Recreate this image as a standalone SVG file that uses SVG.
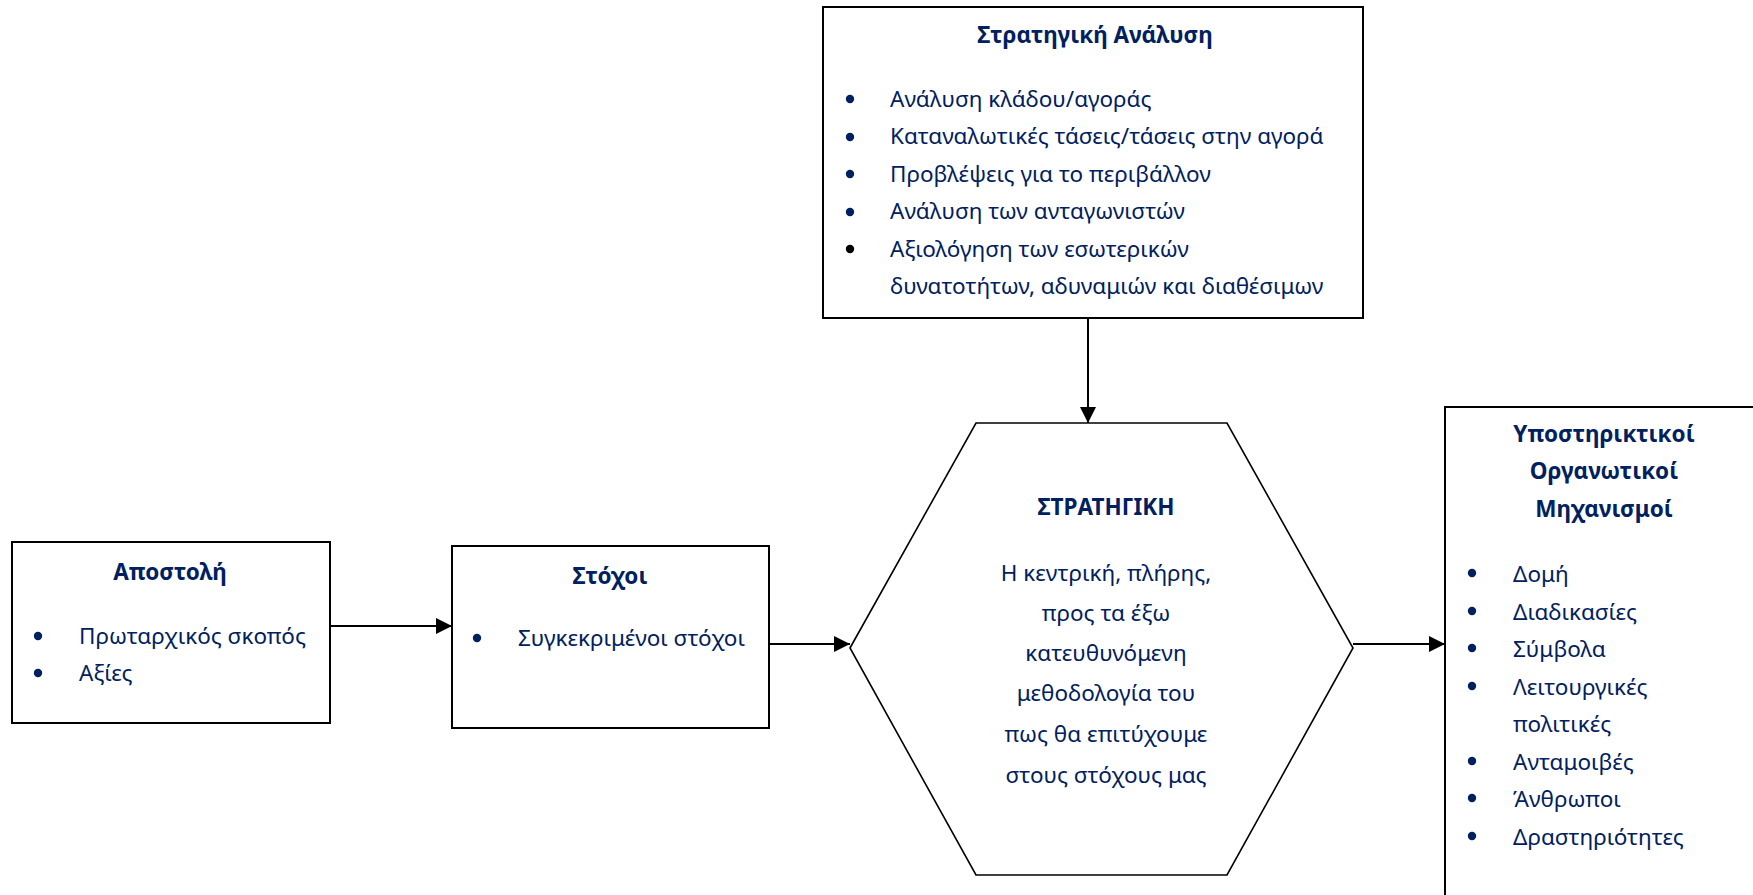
<svg xmlns="http://www.w3.org/2000/svg" width="1753" height="895" viewBox="0 0 1753 895">
<defs>
<marker id="ah" viewBox="0 0 16 16" refX="16" refY="8" markerWidth="16" markerHeight="16" markerUnits="userSpaceOnUse" orient="auto">
<path d="M0,0 L16,8 L0,16 Z" fill="#000"/>
</marker>
<style>
.box{fill:#fff;stroke:#000;stroke-width:2}
.hex{fill:#fff;stroke:#000;stroke-width:1.6}
.t{font-family:"Noto Sans","Open Sans","DejaVu Sans",sans-serif;font-size:22.5px;fill:#002060}
.b{font-weight:bold}
.c{text-anchor:middle}
.dot{fill:#002060}
.con{stroke:#000;stroke-width:2;fill:none;marker-end:url(#ah)}
</style>
</defs>
<rect width="1753" height="895" fill="#fff"/>

<g id="connectors">
<line class="con" x1="1088" y1="319" x2="1088" y2="423"/>
<line class="con" x1="331" y1="626" x2="452" y2="626"/>
<line class="con" x1="770" y1="644" x2="850" y2="644"/>
<line class="con" x1="1353" y1="644" x2="1445" y2="644"/>
</g>

<g id="strategic-analysis">
<rect class="box" x="823" y="7" width="540" height="311"/>
<text class="t b c" x="1095" y="43">Στρατηγική Ανάλυση</text>
<circle class="dot" cx="850" cy="99" r="4.2"/>
<circle class="dot" cx="850" cy="137" r="4.2"/>
<circle class="dot" cx="850" cy="174" r="4.2"/>
<circle class="dot" cx="850" cy="212" r="4.2"/>
<circle cx="850" cy="249" r="4.2" fill="#000"/>
<text class="t" x="890" y="107">Ανάλυση κλάδου/αγοράς</text>
<text class="t" x="890" y="144">Καταναλωτικές τάσεις/τάσεις στην αγορά</text>
<text class="t" x="890" y="182">Προβλέψεις για το περιβάλλον</text>
<text class="t" x="890" y="219">Ανάλυση των ανταγωνιστών</text>
<text class="t" x="890" y="257">Αξιολόγηση των εσωτερικών</text>
<text class="t" x="890" y="294">δυνατοτήτων, αδυναμιών και διαθέσιμων</text>
</g>

<g id="mission">
<rect class="box" x="12" y="542" width="318" height="181"/>
<text class="t b c" x="170" y="580">Αποστολή</text>
<circle class="dot" cx="38" cy="636" r="4.2"/>
<circle class="dot" cx="38" cy="673" r="4.2"/>
<text class="t" x="79" y="644">Πρωταρχικός σκοπός</text>
<text class="t" x="79" y="681">Αξίες</text>
</g>

<g id="goals">
<rect class="box" x="452" y="546" width="317" height="182"/>
<text class="t b c" x="610" y="584">Στόχοι</text>
<circle class="dot" cx="477" cy="638" r="4.2"/>
<text class="t" x="518" y="646">Συγκεκριμένοι στόχοι</text>
</g>

<g id="strategy">
<polygon class="hex" points="850,648 976,423 1227,423 1353,648 1227,875 976,875"/>
<text class="t b c" x="1106" y="515">ΣΤΡΑΤΗΓΙΚΗ</text>
<text class="t c" x="1106" y="581">Η κεντρική, πλήρης,</text>
<text class="t c" x="1106" y="621">προς τα έξω</text>
<text class="t c" x="1106" y="661">κατευθυνόμενη</text>
<text class="t c" x="1106" y="701">μεθοδολογία του</text>
<text class="t c" x="1106" y="742">πως θα επιτύχουμε</text>
<text class="t c" x="1106" y="783">στους στόχους μας</text>
</g>

<g id="mechanisms">
<rect class="box" x="1445" y="407" width="400" height="600"/>
<text class="t b c" x="1604" y="442">Υποστηρικτικοί</text>
<text class="t b c" x="1604" y="479">Οργανωτικοί</text>
<text class="t b c" x="1604" y="517">Μηχανισμοί</text>
<circle class="dot" cx="1472" cy="573" r="4.2"/>
<circle class="dot" cx="1472" cy="611" r="4.2"/>
<circle class="dot" cx="1472" cy="648" r="4.2"/>
<circle class="dot" cx="1472" cy="686" r="4.2"/>
<circle class="dot" cx="1472" cy="761" r="4.2"/>
<circle class="dot" cx="1472" cy="798" r="4.2"/>
<circle class="dot" cx="1472" cy="836" r="4.2"/>
<text class="t" x="1513" y="582">Δομή</text>
<text class="t" x="1513" y="620">Διαδικασίες</text>
<text class="t" x="1513" y="657">Σύμβολα</text>
<text class="t" x="1513" y="695">Λειτουργικές</text>
<text class="t" x="1513" y="732">πολιτικές</text>
<text class="t" x="1513" y="770">Ανταμοιβές</text>
<text class="t" x="1513" y="807">Άνθρωποι</text>
<text class="t" x="1513" y="845">Δραστηριότητες</text>
</g>
</svg>
